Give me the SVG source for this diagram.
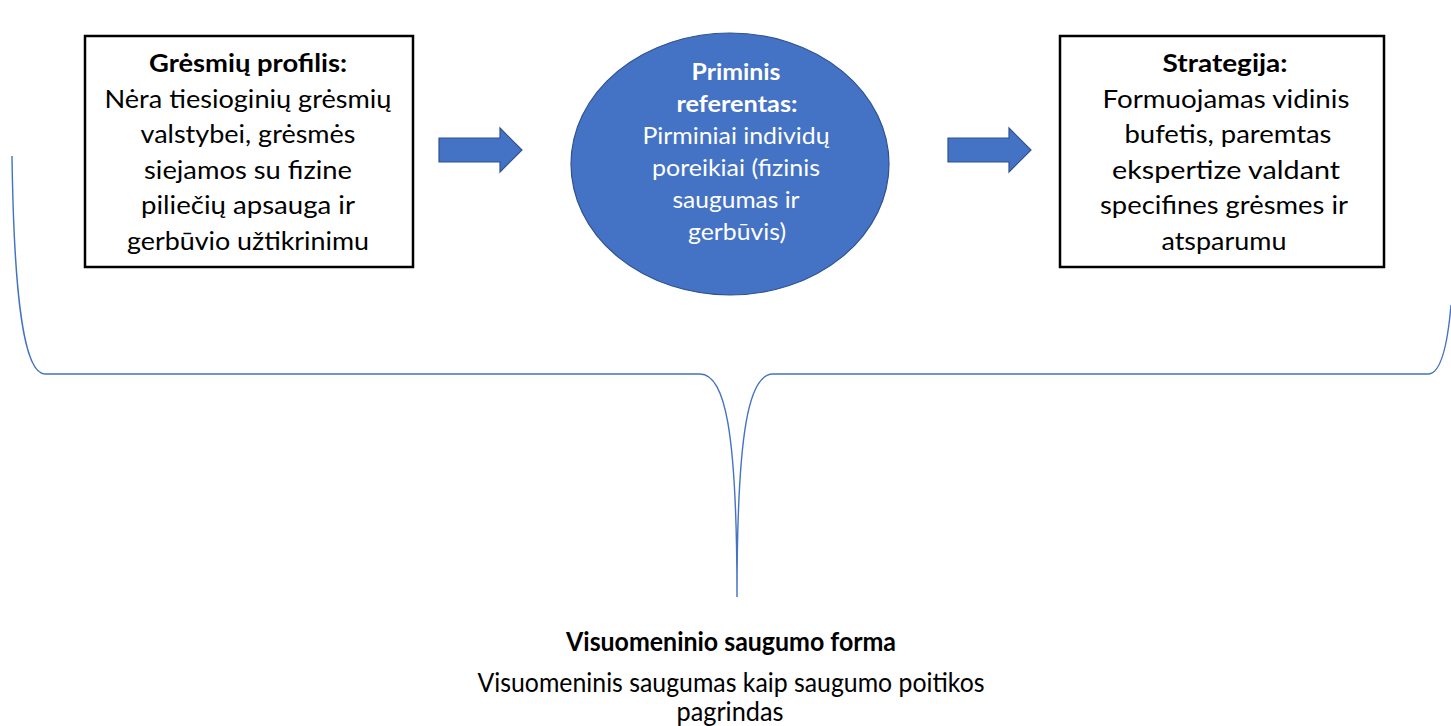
<svg xmlns="http://www.w3.org/2000/svg" width="1451" height="726" viewBox="0 0 1451 726">
  <style>
    .box { fill: #ffffff; stroke: #000000; stroke-width: 2.5; }
    .oval { fill: #4472C4; stroke: #2F528F; stroke-width: 1.2; }
    .arrow { fill: #4472C4; stroke: #2F528F; stroke-width: 1.2; }
    .brace { fill: none; stroke: #4472C4; stroke-width: 1.4; }
    text { font-family: Lato, "Open Sans", "Liberation Sans", sans-serif; text-anchor: middle; }
    .t { font-size: 25.5px; fill: #000000; }
    .w { font-size: 22.5px; fill: #ffffff; }
    .b { font-weight: bold; }
    .s { font-size: 26.5px; fill: #000000; }
  </style>

  <rect width="1451" height="726" fill="#ffffff"/>

  <!-- threat profile -->
  <g id="threat-profile">
    <rect class="box" x="85" y="36" width="328" height="231"/>
    <text class="t b" x="248" y="72" textLength="198" lengthAdjust="spacingAndGlyphs">Grėsmių profilis:</text>
    <text class="t" x="248" y="108" textLength="287" lengthAdjust="spacingAndGlyphs">Nėra tiesioginių grėsmių</text>
    <text class="t" x="248" y="143" textLength="215" lengthAdjust="spacingAndGlyphs">valstybei, grėsmės</text>
    <text class="t" x="248" y="179" textLength="208" lengthAdjust="spacingAndGlyphs">siejamos su fizine</text>
    <text class="t" x="248" y="214" textLength="214" lengthAdjust="spacingAndGlyphs">piliečių apsauga ir</text>
    <text class="t" x="248" y="250" textLength="242" lengthAdjust="spacingAndGlyphs">gerbūvio užtikrinimu</text>
  </g>

  <!-- primary referent -->
  <g id="primary-referent">
    <ellipse class="oval" cx="730" cy="164" rx="159" ry="131"/>
    <text class="w b" x="736" y="80" textLength="89" lengthAdjust="spacingAndGlyphs">Priminis</text>
    <text class="w b" x="737" y="112" textLength="121" lengthAdjust="spacingAndGlyphs">referentas:</text>
    <text class="w" x="736" y="144" textLength="187" lengthAdjust="spacingAndGlyphs">Pirminiai individų</text>
    <text class="w" x="736" y="176" textLength="168" lengthAdjust="spacingAndGlyphs">poreikiai (fizinis</text>
    <text class="w" x="736" y="208" textLength="127" lengthAdjust="spacingAndGlyphs">saugumas ir</text>
    <text class="w" x="737" y="240" textLength="98" lengthAdjust="spacingAndGlyphs">gerbūvis)</text>
  </g>

  <!-- strategy -->
  <g id="strategy">
    <rect class="box" x="1060" y="36" width="324" height="231"/>
    <text class="t b" x="1225" y="72" textLength="125" lengthAdjust="spacingAndGlyphs">Strategija:</text>
    <text class="t" x="1226" y="108" textLength="247" lengthAdjust="spacingAndGlyphs">Formuojamas vidinis</text>
    <text class="t" x="1228" y="143" textLength="207" lengthAdjust="spacingAndGlyphs">bufetis, paremtas</text>
    <text class="t" x="1226" y="179" textLength="228" lengthAdjust="spacingAndGlyphs">ekspertize valdant</text>
    <text class="t" x="1224" y="214" textLength="248" lengthAdjust="spacingAndGlyphs">specifines grėsmes ir</text>
    <text class="t" x="1224" y="250" textLength="125" lengthAdjust="spacingAndGlyphs">atsparumu</text>
  </g>

  <!-- societal security form -->
  <g id="security-form">
    <text class="s b" x="731" y="651" textLength="330" lengthAdjust="spacingAndGlyphs">Visuomeninio saugumo forma</text>
    <text class="s" x="731" y="692" textLength="507" lengthAdjust="spacingAndGlyphs">Visuomeninis saugumas kaip saugumo poitikos</text>
    <text class="s" x="730" y="721" textLength="107" lengthAdjust="spacingAndGlyphs">pagrindas</text>
  </g>

  <!-- connectors -->
  <g id="connectors">
    <path class="arrow" d="M439,138 H500 V128 L522,150 L500,172 V162 H439 Z"/>
    <path class="arrow" d="M948,138 H1009 V128 L1031,150 L1009,172 V162 H948 Z"/>
    <path class="brace" d="M12,156 C14,300 24,374 45,374 H700 C725,374 737,430 737,597 C737,430 749,374 773,374 H1428 C1442,374 1448,340 1451,305"/>
  </g>
</svg>
